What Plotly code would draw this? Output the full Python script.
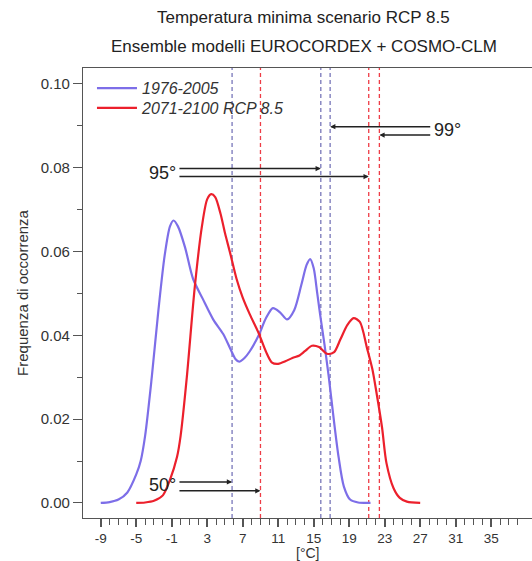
import plotly.graph_objects as go

# ---- data ----
x_hist = [-9, -8, -7, -6, -5, -4.5, -4, -3.25, -2.5, -1.8, -1.2, -0.8, -0.3, 0.5, 1.4, 2.5,
          3.7, 4.8, 5.6, 6.2, 6.6, 7.2, 7.8, 8.8, 9.6, 10.4, 11.2, 12.0, 12.8, 13.6, 14.2, 14.6,
          15.0, 15.4, 15.7, 16.2, 16.7, 17.2, 17.8, 18.4, 19.1, 20.0, 21.4]
y_hist = [0.0, 0.0002, 0.0008, 0.0025, 0.0068, 0.0100, 0.016, 0.030, 0.046, 0.059, 0.066, 0.0674,
          0.066, 0.061, 0.0535, 0.0487, 0.0437, 0.0403, 0.0368, 0.0343, 0.0337, 0.0346, 0.0362,
          0.040, 0.044, 0.0465, 0.0455, 0.0438, 0.046, 0.052, 0.0568, 0.0582, 0.056, 0.050,
          0.0453, 0.038, 0.030, 0.021, 0.011, 0.0039, 0.0008, 0.0001, 0.0]

x_rcp = [-5, -4, -3, -2, -1.2, -0.4, 0.0, 0.7, 1.6, 2.4, 3.0, 3.45, 3.9, 4.5, 5.0, 5.6, 6.3,
         7.0, 7.8, 8.8, 9.6, 10.3, 11.0, 11.8, 12.6, 13.4, 14.0, 14.8, 15.6, 16.5, 17.3, 18.0,
         18.8, 19.5, 20.2, 21.0, 21.6, 22.1, 22.7, 23.2, 24.0, 24.7, 25.5, 27.0]
y_rcp = [0.0, 0.0001, 0.0005, 0.0018, 0.0055, 0.0110, 0.016, 0.030, 0.0516, 0.066, 0.0725,
         0.0737, 0.073, 0.069, 0.0644, 0.0595, 0.0535, 0.0490, 0.0450, 0.0405, 0.0362, 0.0335,
         0.0332, 0.0338, 0.0346, 0.0352, 0.0362, 0.0375, 0.0372, 0.0356, 0.0360, 0.0390,
         0.0425, 0.0441, 0.0432, 0.037, 0.032, 0.026, 0.018, 0.0095, 0.0035, 0.0012, 0.0003, 0.0]

pct_labels = ["50°", "95°", "99°"]
pct_hist = [5.8, 15.8, 16.85]
pct_rcp = [9.0, 21.2, 22.4]

x_tickvals = [-9, -5, -1, 3, 7, 11, 15, 19, 23, 27, 31, 35]
x_ticktext = ["-9", "-5", "-1", "3", "7", "11", "15", "19", "23", "27", "31", "35"]
x_minorvals = list(range(-9, 39))
y_tickvals = [0.0, 0.02, 0.04, 0.06, 0.08, 0.10]
y_minorvals = [0.01, 0.03, 0.05, 0.07, 0.09]

name_hist = "1976-2005"
name_rcp = "2071-2100 RCP 8.5"
x_title = "[°C]"
y_title = "Frequenza di occorrenza"

# ---- styles ----
FONT = "Liberation Sans, Arial, sans-serif"
BLUE = "rgb(125,110,232)"
RED = "rgb(236,32,44)"
BLUE_DASH = "rgb(120,118,185)"
RED_DASH = "rgb(238,60,70)"
AXC = "#555555"
TXT = "#333333"

fig = go.Figure()
fig.add_trace(go.Scatter(x=x_hist, y=y_hist, mode="lines", name=f"<i>{name_hist}</i>", legend="legend",
                         line=dict(color=BLUE, width=2.2, shape="spline", smoothing=0.8)))
fig.add_trace(go.Scatter(x=x_rcp, y=y_rcp, mode="lines", name=f"<i>{name_rcp}</i>", legend="legend2",
                         line=dict(color=RED, width=2.2, shape="spline", smoothing=0.8)))

# percentile lines
for v in pct_hist:
    fig.add_shape(type="line", x0=v, x1=v, y0=0, y1=1, xref="x", yref="paper",
                  line=dict(color=BLUE_DASH, width=1.3, dash="4px,3px"), layer="below")
for v in pct_rcp:
    fig.add_shape(type="line", x0=v, x1=v, y0=0, y1=1, xref="x", yref="paper",
                  line=dict(color=RED_DASH, width=1.3, dash="4px,3px"), layer="below")

# arrows (positions of labels / arrow rows)
label_pos = [  # (tail x, y for hist arrow, y for rcp arrow, label y, side)
    (-0.3, 0.0050, 0.0029, 0.0043, "left"),
    (-0.3, 0.0798, 0.0779, 0.0788, "left"),
    (28.3, 0.0898, 0.0878, 0.0890, "right"),
]
for lab, ph, pr, (tx, yh, yr, yl, side) in zip(pct_labels, pct_hist, pct_rcp, label_pos):
    for head, yy in ((ph, yh), (pr, yr)):
        fig.add_annotation(x=head, y=yy, ax=tx, ay=yy, xref="x", yref="y", axref="x", ayref="y",
                           text="", showarrow=True, arrowhead=2, arrowsize=0.7,
                           arrowwidth=1.5, arrowcolor="#222222", standoff=0, startstandoff=0)
    fig.add_annotation(x=tx, y=yl, xref="x", yref="y", text=lab, showarrow=False,
                       xanchor="right" if side == "left" else "left", yanchor="middle",
                       font=dict(family=FONT, size=18, color="#222222"))

# titles
fig.add_annotation(text="Temperatura minima scenario RCP 8.5", x=0.492, y=1, xref="paper", yref="paper",
                   xanchor="center", yanchor="bottom", yshift=39, showarrow=False,
                   font=dict(family=FONT, size=17, color="#222222"))
fig.add_annotation(text="Ensemble modelli EUROCORDEX + COSMO-CLM", x=0.492, y=1, xref="paper", yref="paper",
                   xanchor="center", yanchor="bottom", yshift=10, showarrow=False,
                   font=dict(family=FONT, size=17, color="#222222"))
# x axis title
fig.add_annotation(text=x_title, x=0.5, y=0, xref="paper", yref="paper",
                   xanchor="center", yanchor="top", yshift=-25, showarrow=False,
                   font=dict(family=FONT, size=14, color=TXT))

legend_common = dict(xanchor="left", yanchor="top", bgcolor="rgba(0,0,0,0)",
                     font=dict(family=FONT, size=16, color=TXT), itemwidth=40)

fig.update_layout(
    width=532, height=561,
    margin=dict(l=83, r=0, t=68, b=43, autoexpand=False),
    paper_bgcolor="white", plot_bgcolor="white",
    font=dict(family=FONT, color=TXT),
    showlegend=True,
    legend=dict(x=0.02, y=0.993, **legend_common),
    legend2=dict(x=0.02, y=0.949, **legend_common),
    xaxis=dict(range=[-11, 39.6], showgrid=False, zeroline=False, showline=True, automargin=False,
               linecolor=AXC, linewidth=1.2, mirror=True,
               tickmode="array", tickvals=x_tickvals, ticktext=x_ticktext,
               ticks="outside", ticklen=8, tickwidth=2, tickcolor=AXC,
               tickfont=dict(family=FONT, size=13.5, color=TXT),
               minor=dict(tickmode="array", tickvals=x_minorvals, ticks="outside", ticklen=6,
                          tickwidth=1, tickcolor=AXC)),
    yaxis=dict(range=[-0.0036, 0.1038], showgrid=False, zeroline=False, showline=True, automargin=False,
               linecolor=AXC, linewidth=1.2, mirror=False,
               tickmode="array", tickvals=y_tickvals, tickformat=".2f",
               ticks="outside", ticklen=9, tickwidth=1.2, tickcolor=AXC,
               tickfont=dict(family=FONT, size=15, color=TXT),
               minor=dict(tickmode="array", tickvals=y_minorvals, ticks="outside", ticklen=5,
                          tickwidth=1, tickcolor=AXC),
               title=dict(text=y_title, font=dict(family=FONT, size=15, color=TXT),
                          standoff=8)),
)

fig.write_html("out.html", config={"displayModeBar": False},
               post_script="document.body.style.margin='0';document.body.style.overflow='hidden';")
